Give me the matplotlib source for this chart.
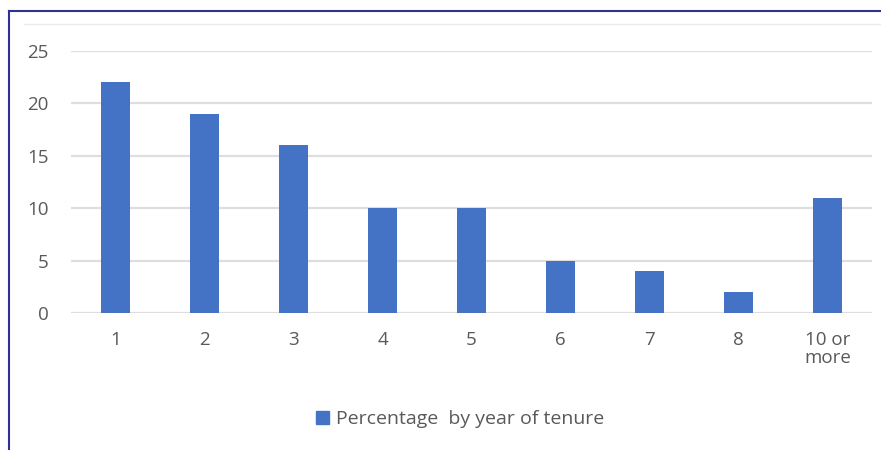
import matplotlib.pyplot as plt
from matplotlib.lines import Line2D

# Daten
categories = ["1", "2", "3", "4", "5", "6", "7", "8", "10 or\nmore"]
values = [22, 19, 16, 10, 10, 5, 4, 2, 11]
y_ticks = [0, 5, 10, 15, 20, 25]
series_name = "Percentage  by year of tenure"

W, H = 881, 450
fig = plt.figure(figsize=(W / 100, H / 100), dpi=100)
plt.rcParams['font.family'] = ['Open Sans', 'DejaVu Sans']

ax = fig.add_axes([71 / W, 1 - 313 / H, (872 - 71) / W, (313 - 51) / H])
x = range(len(categories))
ax.bar(x, values, width=0.33, color="#4472C4", zorder=3)

ax.set_xlim(-0.5, len(categories) - 0.5)
ax.set_ylim(0, 25)
ax.set_yticks(y_ticks)
ax.set_xticks(list(x))
ax.set_xticklabels(categories, linespacing=1.0)
ax.grid(axis="y", color="#DEDEDE", linewidth=1.6, zorder=0)
for s in ax.spines.values():
    s.set_visible(False)
ax.tick_params(length=0, labelsize=13.5, colors="#595959")
ax.tick_params(axis="x", pad=13)
ax.tick_params(axis="y", pad=16)
for lbl in ax.get_xticklabels():
    lbl.set_verticalalignment("top")

# Rahmen (links und oben) und obere helle Linie
fig.add_artist(Line2D([9 / W, 9 / W], [0, 1 - 11 / H], color="#2E3192", linewidth=1.5))
fig.add_artist(Line2D([9 / W, 1], [1 - 11 / H, 1 - 11 / H], color="#2E3192", linewidth=1.5))
fig.add_artist(Line2D([24 / W, 1], [1 - 24 / H, 1 - 24 / H], color="#EBEBEB", linewidth=1))

handle = plt.Rectangle((0, 0), 1, 1, color="#4472C4")
fig.legend([handle], [series_name], loc="center", bbox_to_anchor=(460 / W, 1 - 419 / H),
           frameon=False, fontsize=14, labelcolor="#595959", handlelength=0.65,
           handleheight=0.65, handletextpad=0.35)

fig.savefig("out.png", dpi=100)
